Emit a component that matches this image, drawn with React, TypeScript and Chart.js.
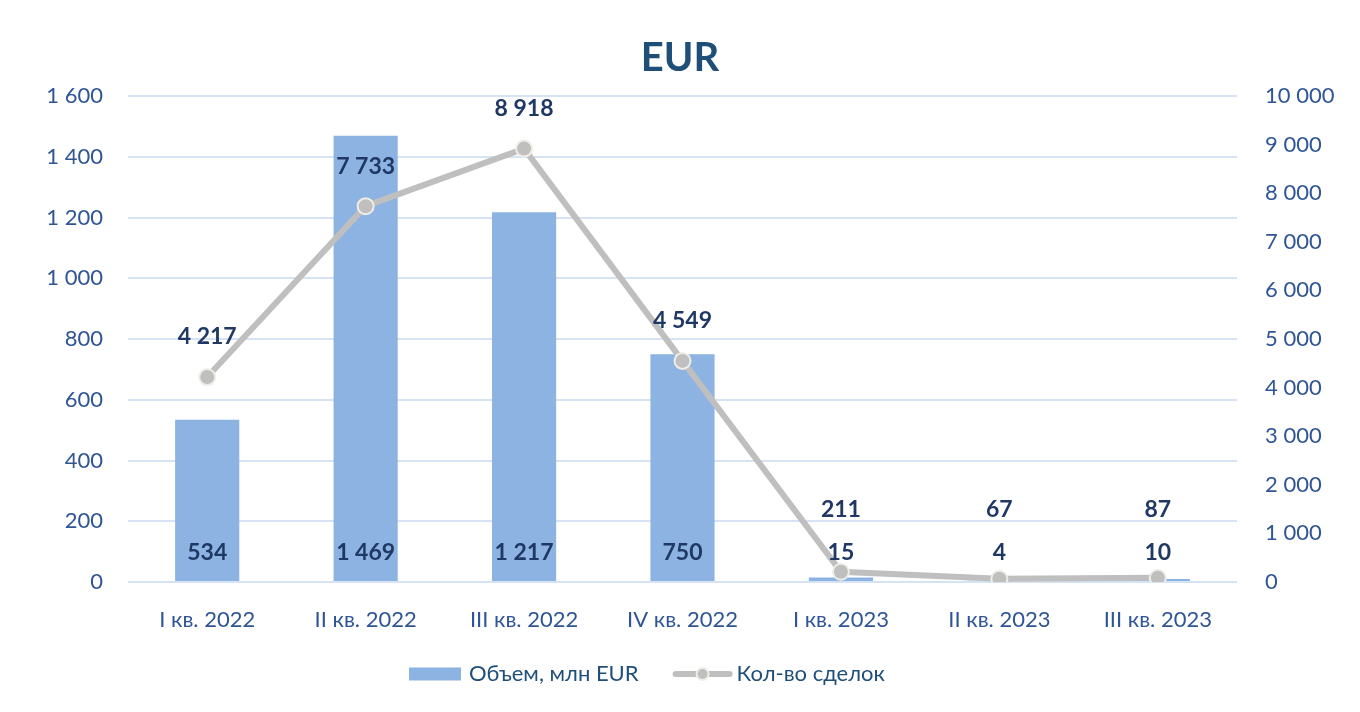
import React, { useEffect, useRef } from "react";
import { Chart, registerables } from "chart.js";

Chart.register(...registerables);

const categories = ["I кв. 2022", "II кв. 2022", "III кв. 2022", "IV кв. 2022", "I кв. 2023", "II кв. 2023", "III кв. 2023"];
const volumeValues = [534, 1469, 1217, 750, 15, 4, 10];
const dealCounts = [4217, 7733, 8918, 4549, 211, 67, 87];
const leftTicks = [0, 200, 400, 600, 800, 1000, 1200, 1400, 1600];
const rightTicks = [0, 1000, 2000, 3000, 4000, 5000, 6000, 7000, 8000, 9000, 10000];
const titleText = "EUR";
const volumeLabel = "Объем, млн EUR";
const dealsLabel = "Кол-во сделок";

const FONT = "Lato, 'Open Sans', sans-serif";
const BAR_COLOR = "#8DB3E2";
const LINE_COLOR = "#BFBFBF";
const TICK_COLOR = "#2F5597";
const LABEL_COLOR = "#1F3864";
const TITLE_COLOR = "#1F4E79";
const GRID_COLOR = "#D6E3F4";

const fmt = (v: number) => String(v).replace(/\B(?=(\d{3})+(?!\d))/g, " ");

const decorPlugin = {
  id: "decor",
  afterDatasetsDraw(chart: any) {
    const ctx = chart.ctx;
    const y = chart.scales.y;
    const zero = y.getPixelForValue(0);
    ctx.save();
    ctx.textAlign = "center";
    ctx.textBaseline = "middle";
    ctx.fillStyle = LABEL_COLOR;
    ctx.font = `bold 23px ${FONT}`;
    const barMeta = chart.getDatasetMeta(1);
    barMeta.data.forEach((el: any, i: number) => {
      ctx.fillText(fmt(volumeValues[i]), el.x, zero - 29);
    });
    const lineMeta = chart.getDatasetMeta(0);
    lineMeta.data.forEach((el: any, i: number) => {
      ctx.fillText(fmt(dealCounts[i]), el.x, Math.min(el.y - 40, zero - 72));
    });
    ctx.restore();
  },
  afterDraw(chart: any) {
    const ctx = chart.ctx;
    ctx.save();
    ctx.textAlign = "center";
    ctx.textBaseline = "middle";
    ctx.fillStyle = TITLE_COLOR;
    ctx.font = `bold 40px ${FONT}`;
    ctx.fillText(titleText, 680, 58);
    const ly = 674;
    ctx.font = `22px ${FONT}`;
    ctx.textAlign = "left";
    let x = 409;
    ctx.fillStyle = BAR_COLOR;
    ctx.fillRect(x, ly - 6.5, 52, 13);
    x += 60;
    ctx.fillStyle = TITLE_COLOR;
    ctx.fillText(volumeLabel, x, ly);
    x += ctx.measureText(volumeLabel).width + 34;
    ctx.strokeStyle = LINE_COLOR;
    ctx.lineWidth = 6;
    ctx.lineCap = "round";
    ctx.beginPath();
    ctx.moveTo(x + 3, ly);
    ctx.lineTo(x + 57, ly);
    ctx.stroke();
    ctx.beginPath();
    ctx.arc(x + 30, ly, 6, 0, Math.PI * 2);
    ctx.fillStyle = LINE_COLOR;
    ctx.fill();
    ctx.lineWidth = 2;
    ctx.strokeStyle = "#EFEEE6";
    ctx.stroke();
    x += 64;
    ctx.fillStyle = TITLE_COLOR;
    ctx.fillText(dealsLabel, x, ly);
    ctx.restore();
  },
};

export default function App() {
  const ref = useRef<HTMLCanvasElement>(null);
  useEffect(() => {
    document.body.style.margin = "0";
    const chart = new Chart(ref.current as HTMLCanvasElement, {
      type: "bar",
      data: {
        labels: categories,
        datasets: [
          {
            type: "line",
            label: dealsLabel,
            data: dealCounts,
            yAxisID: "y1",
            borderColor: LINE_COLOR,
            borderWidth: 6,
            backgroundColor: LINE_COLOR,
            pointRadius: 8,
            pointBackgroundColor: LINE_COLOR,
            pointBorderColor: "#EFEEE6",
            pointBorderWidth: 2,
            tension: 0,
            order: 0,
          } as any,
          {
            type: "bar",
            label: volumeLabel,
            data: volumeValues,
            yAxisID: "y",
            backgroundColor: BAR_COLOR,
            barPercentage: 0.405,
            categoryPercentage: 1,
            order: 1,
          },
        ],
      },
      options: {
        responsive: false,
        animation: false,
        devicePixelRatio: 1,
        layout: { padding: { top: 96, left: 0, right: 0, bottom: 0 } },
        plugins: {
          legend: { display: false },
          title: { display: false },
          tooltip: { enabled: false },
        },
        scales: {
          x: {
            offset: true,
            grid: { display: false, drawTicks: false },
            border: { display: false },
            ticks: { color: TICK_COLOR, font: { family: FONT, size: 22 }, padding: 25 },
            afterFit: (s: any) => { s.height = 130; },
          },
          y: {
            position: "left",
            min: 0,
            max: 1600,
            afterBuildTicks: (s: any) => { s.ticks = leftTicks.map((v) => ({ value: v })); },
            grid: { color: GRID_COLOR, lineWidth: 2, drawTicks: false },
            border: { display: false },
            ticks: { color: TICK_COLOR, font: { family: FONT, size: 22 }, padding: 25, callback: (v: any) => fmt(Number(v)) },
            afterFit: (s: any) => { s.width = 128; },
          },
          y1: {
            position: "right",
            min: 0,
            max: 10000,
            afterBuildTicks: (s: any) => { s.ticks = rightTicks.map((v) => ({ value: v })); },
            grid: { display: false, drawTicks: false },
            border: { display: false },
            ticks: { color: TICK_COLOR, font: { family: FONT, size: 22 }, padding: 28, callback: (v: any) => fmt(Number(v)) },
            afterFit: (s: any) => { s.width = 123; },
          },
        },
      },
      plugins: [decorPlugin],
    });
    return () => chart.destroy();
  }, []);
  return (
    <div style={{ width: 1360, height: 712, background: "#fff" }}>
      <canvas ref={ref} width={1360} height={712} />
    </div>
  );
}
